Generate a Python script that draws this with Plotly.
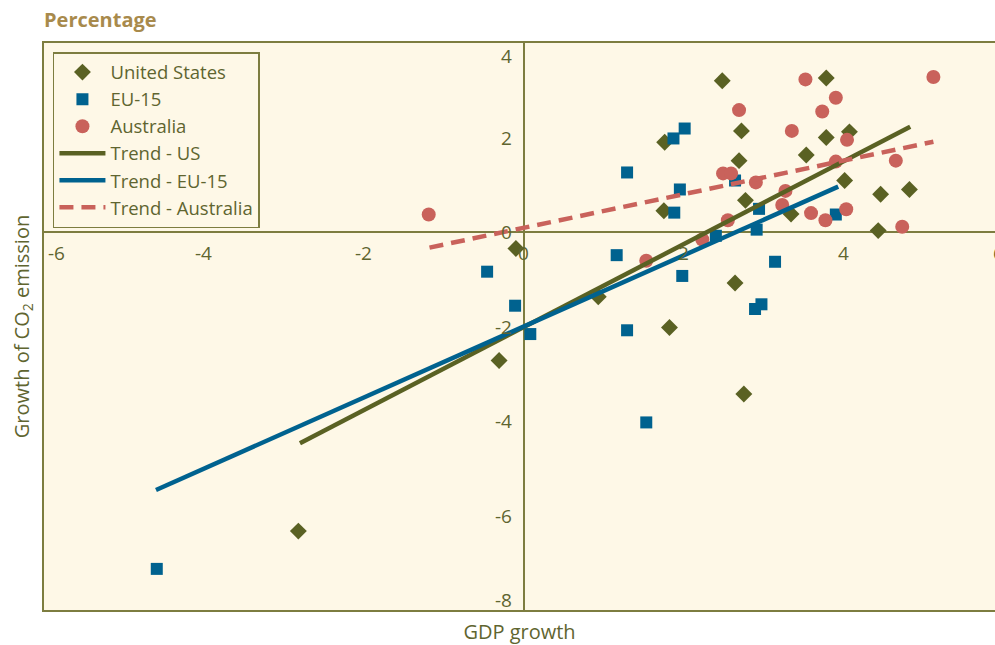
import plotly.graph_objects as go

# ---------------- data ----------------
us_x = [2.48, 2.72, 2.69, 2.77, 1.76, 1.75, 3.78, 3.78, 4.07, 3.53, 4.01, 4.46, 4.82, 3.34, 4.43,
        2.64, 1.82, 2.75, 0.93, -0.10, -0.31, -2.82]
us_y = [3.20, 2.14, 1.51, 0.67, 1.90, 0.45, 3.26, 2.00, 2.12, 1.63, 1.09, 0.80, 0.90, 0.38, 0.03,
        -1.08, -2.02, -3.43, -1.37, -0.35, -2.72, -6.33]

eu_x = [2.64, 2.94, 2.91, 2.40, 1.87, 2.01, 1.29, 1.95, 1.88, 1.16, 3.90, 1.98, 3.14, 2.97, 2.89,
        1.29, 1.53, -0.46, -0.11, 0.08, -4.59]
eu_y = [1.09, 0.49, 0.05, -0.08, 1.98, 2.19, 1.26, 0.90, 0.41, -0.49, 0.37, -0.93, -0.63, -1.53, -1.63,
        -2.08, -4.03, -0.84, -1.56, -2.16, -7.13]

au_x = [2.69, 2.49, 2.59, 2.90, 2.55, 2.23, 3.52, 5.12, 3.90, 3.73, 3.35, 4.04, 3.90, 4.65, 3.27,
        3.23, 3.59, 3.77, 4.03, 4.73, 1.53, -1.19]
au_y = [2.58, 1.24, 1.24, 1.05, 0.25, -0.16, 3.23, 3.28, 2.84, 2.55, 2.14, 1.95, 1.49, 1.51, 0.87,
        0.57, 0.40, 0.25, 0.48, 0.11, -0.61, 0.37]

trend_us_x = [-2.80, 4.83]
trend_us_y = [-4.47, 2.23]
trend_eu_x = [-4.60, 3.93]
trend_eu_y = [-5.46, 0.96]
trend_au_x = [-1.18, 5.12]
trend_au_y = [-0.33, 1.91]

x_ticks = [-6, -4, -2, 0, 2, 4, 6]
y_ticks = [4, 2, 0, -2, -4, -6, -8]

# ---------------- style ----------------
C_US = "#5a6123"
C_EU = "#00628f"
C_AU = "#c9625b"
TXT = "#5f6530"
AXC = "#7d7d40"
BG = "#fef8e7"
FONT = "Open Sans"
TICK_SIZE = 19

fig = go.Figure()
fig.add_trace(go.Scatter(x=us_x, y=us_y, mode="markers", name="United States",
                         marker=dict(symbol="diamond", size=13, color=C_US)))
fig.add_trace(go.Scatter(x=eu_x, y=eu_y, mode="markers", name="EU-15",
                         marker=dict(symbol="square", size=12, color=C_EU)))
fig.add_trace(go.Scatter(x=au_x, y=au_y, mode="markers", name="Australia",
                         marker=dict(symbol="circle", size=14, color=C_AU)))
fig.add_trace(go.Scatter(x=trend_us_x, y=trend_us_y, mode="lines", name="Trend - US",
                         line=dict(color=C_US, width=4.5)))
fig.add_trace(go.Scatter(x=trend_eu_x, y=trend_eu_y, mode="lines", name="Trend - EU-15",
                         line=dict(color=C_EU, width=4.5)))
fig.add_trace(go.Scatter(x=trend_au_x, y=trend_au_y, mode="lines", name="Trend - Australia",
                         line=dict(color=C_AU, width=4.5, dash="14px,8px")))

tick_font = dict(family=FONT, size=TICK_SIZE, color=TXT)
annotations = []
for t in x_ticks:
    if t == -6:
        annotations.append(dict(x=t, y=0, xref="x", yref="y", text=str(t), showarrow=False,
                                xanchor="left", yanchor="top", xshift=2, yshift=-6, font=tick_font))
    elif t == 6:
        annotations.append(dict(x=1, y=0, xref="paper", yref="y", text=str(t), showarrow=False,
                                xanchor="left", yanchor="top", xshift=-4, yshift=-6, font=tick_font))
    else:
        annotations.append(dict(x=t, y=0, xref="x", yref="y", text=str(t), showarrow=False,
                                xanchor="center", yanchor="top", yshift=-6, font=tick_font))
for t in y_ticks:
    ys = 0
    ya = "middle"
    if t == 4:
        ya = "top"; ys = 2
    elif t == -8:
        ya = "bottom"; ys = -5
    annotations.append(dict(x=0, y=t, xref="x", yref="y", text=str(t), showarrow=False,
                            xanchor="right", yanchor=ya, xshift=-10, yshift=ys, font=tick_font))

annotations.append(dict(x=0, y=1, xref="paper", yref="paper", text="<b>Percentage</b>",
                        showarrow=False, xanchor="left", yanchor="bottom", xshift=-2, yshift=8,
                        font=dict(family=FONT, size=20, color="#a88a4c")))

fig.update_layout(
    width=995, height=645,
    margin=dict(l=44, r=0, t=43, b=35),
    paper_bgcolor="white", plot_bgcolor=BG,
    font=dict(family=FONT, color=TXT, size=20),
    showlegend=True,
    legend=dict(x=0.0094, y=0.984, xanchor="left", yanchor="top",
                bgcolor=BG, bordercolor=AXC, borderwidth=1.5,
                font=dict(family=FONT, size=18.5, color=TXT),
                itemwidth=46, tracegroupgap=0),
    xaxis=dict(range=[-6, 5.89], showgrid=False, zeroline=True, zerolinecolor=AXC,
               zerolinewidth=1.5, showticklabels=False, ticks="",
               showline=True, linecolor=AXC, linewidth=2, mirror=True,
               title=dict(text="GDP growth", font=dict(family=FONT, size=20, color=TXT), standoff=14)),
    yaxis=dict(range=[-8, 4], showgrid=False, zeroline=True, zerolinecolor=AXC,
               zerolinewidth=1.5, showticklabels=False, ticks="",
               showline=True, linecolor=AXC, linewidth=2, mirror=False,
               title=dict(text="Growth of CO<sub>2</sub> emission",
                          font=dict(family=FONT, size=20, color=TXT), standoff=7)),
    annotations=annotations,
)

fig.write_html("out.html", config={"displayModeBar": False},
               post_script="document.body.style.margin='0';document.body.style.overflow='hidden';")
